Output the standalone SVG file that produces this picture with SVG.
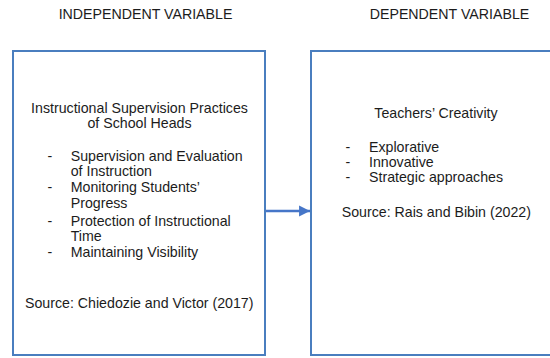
<svg xmlns="http://www.w3.org/2000/svg" width="550" height="358" viewBox="0 0 550 358">
  <style>
    text { font-family: "Liberation Sans", Arial, sans-serif; font-size: 14.2px; fill: #1c1c1c; }
    .mid { text-anchor: middle; }
    .box { fill: #ffffff; stroke: #4a7ebf; stroke-width: 2; }
    .conn { stroke: #4676c8; stroke-width: 2.6; fill: none; }
  </style>
  <defs>
    <marker id="head" viewBox="0 0 10 10" refX="10" refY="5" markerWidth="4.2" markerHeight="4.6" markerUnits="strokeWidth" orient="auto">
      <path d="M0,0 L10,5 L0,10 Z" fill="#4676c8"/>
    </marker>
  </defs>
  <rect width="550" height="358" fill="#ffffff"/>

  <!-- column headings -->
  <text class="mid" x="145.5" y="18.5">INDEPENDENT VARIABLE</text>
  <text class="mid" x="449.5" y="18.5">DEPENDENT VARIABLE</text>

  <!-- independent variable -->
  <g id="independent">
    <rect class="box" x="13" y="51" width="252" height="304"/>
    <text class="mid" x="139.5" y="113.3">Instructional Supervision Practices</text>
    <text class="mid" x="139.5" y="128.3">of School Heads</text>
    <text x="47.5" y="161">-</text>
    <text x="70.7" y="161">Supervision and Evaluation</text>
    <text x="70.7" y="176.2">of Instruction</text>
    <text x="47.5" y="192">-</text>
    <text x="70.7" y="192">Monitoring Students’</text>
    <text x="70.7" y="207.5">Progress</text>
    <text x="47.5" y="225.5">-</text>
    <text x="70.7" y="225.5">Protection of Instructional</text>
    <text x="70.7" y="241">Time</text>
    <text x="47.5" y="257.3">-</text>
    <text x="70.7" y="257.3">Maintaining Visibility</text>
    <text x="25" y="308.3">Source: Chiedozie and Victor (2017)</text>
  </g>

  <!-- dependent variable -->
  <g id="dependent">
    <rect class="box" x="311" y="51" width="250" height="304"/>
    <text class="mid" x="436" y="118.3">Teachers’ Creativity</text>
    <text x="345.5" y="151.7">-</text>
    <text x="369" y="151.7">Explorative</text>
    <text x="345.5" y="166.7">-</text>
    <text x="369" y="166.7">Innovative</text>
    <text x="345.5" y="181.7">-</text>
    <text x="369" y="181.7">Strategic approaches</text>
    <text x="341.7" y="216.7">Source: Rais and Bibin (2022)</text>
  </g>

  <!-- connectors -->
  <g id="connectors">
    <line class="conn" x1="266" y1="211" x2="310" y2="211" marker-end="url(#head)"/>
  </g>
</svg>
